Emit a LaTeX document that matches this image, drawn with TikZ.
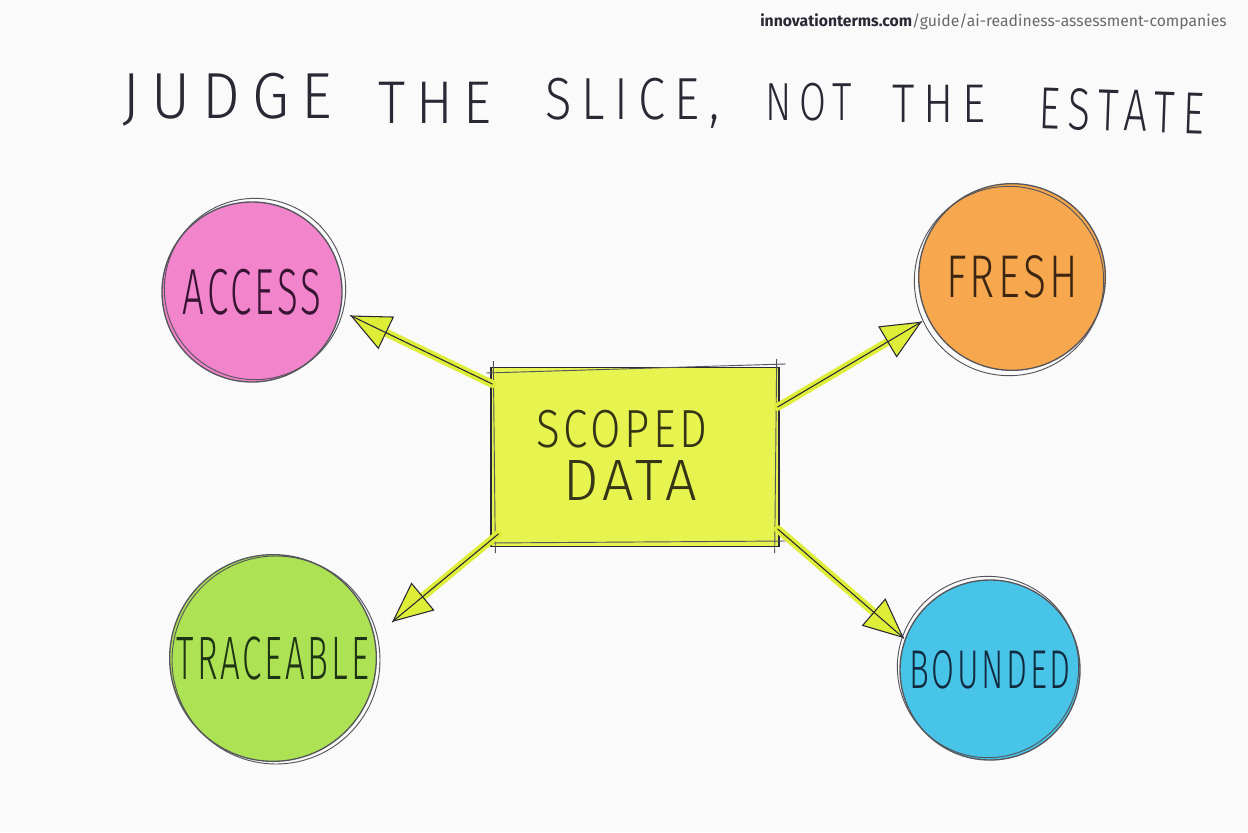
\documentclass[tikz,border=0pt]{standalone}
\usepackage{fontspec}
\setmainfont{Liberation Sans}
\newfontfamily\urlfont{Fira Sans}
\IfFontExistsTF{Fira Sans Light}
  {\newfontfamily\hand[LetterSpace=8]{Fira Sans Light}
   \newfontfamily\titlehand[LetterSpace=20]{Fira Sans Light}}
  {\newfontfamily\hand[LetterSpace=8]{Liberation Sans}
   \newfontfamily\titlehand[LetterSpace=20]{Liberation Sans}}
\usetikzlibrary{arrows.meta,calc}
\definecolor{bg}{RGB}{250,250,250}
\definecolor{ink}{RGB}{42,40,52}
\definecolor{rim}{RGB}{85,85,92}
\definecolor{urlgray}{RGB}{105,105,110}
\definecolor{pinkfill}{RGB}{241,132,202}
\definecolor{orangefill}{RGB}{247,168,78}
\definecolor{greenfill}{RGB}{172,226,84}
\definecolor{bluefill}{RGB}{72,196,232}
\definecolor{boxfill}{RGB}{231,243,78}
\definecolor{arrowyellow}{RGB}{222,238,56}
\definecolor{pinkink}{RGB}{55,20,50}
\definecolor{orangeink}{RGB}{60,38,18}
\definecolor{greenink}{RGB}{30,52,20}
\definecolor{blueink}{RGB}{18,42,62}
\definecolor{boxink}{RGB}{52,52,22}
\tikzset{
  blob/.style={circle, draw=rim, line width=1pt, inner sep=0pt},
  sketch/.style={draw=rim, line width=0.7pt},
  txtlabel/.style={inner sep=0pt, anchor=base},
  titleword/.style={inner sep=0pt, anchor=base west, text=ink},
  pointer/.style={line width=6pt, draw=arrowyellow, line cap=round,
    -{Triangle[length=30pt,width=27pt,fill=arrowyellow,color=ink,line width=0.8pt]},
    postaction={draw=ink, line width=0.8pt, -}}
}
\newcommand{\fitword}[3]{\resizebox{#1pt}{#2pt}{\hand #3}}
\newcommand{\fittitle}[3]{\resizebox{#1pt}{#2pt}{\titlehand #3}}
\begin{document}
\begin{tikzpicture}[x=0.75pt,y=-0.75pt]
\fill[bg] (0,0) rectangle (1248,832);
\useasboundingbox (0,0) rectangle (1248,832);

% source line
\node[anchor=base east, inner sep=0pt] (url) at (1227,26)
  {\fontsize{11.8}{14}\urlfont\textcolor{ink}{\bfseries innovationterms.com}\textcolor{urlgray}{/guide/ai-readiness-assessment-companies}};

% title
\node[titleword] (t1) at (122,118) {\fittitle{157}{34}{JUDGE}};
\node[titleword] (t2) at (378,123) {\fittitle{85}{31}{THE}};
\node[titleword] (t3) at (545,119) {\fittitle{131}{31}{SLICE,}};
\node[titleword] (t4) at (765,120) {\fittitle{65}{28}{NOT}};
\node[titleword] (t5) at (892,122) {\fittitle{70}{28}{THE}};
\node[titleword, rotate=-2] (t6) at (1038,128) {\fittitle{124}{31}{ESTATE}};

% central box
\node[draw=ink, line width=1pt, fill=boxfill, minimum width=216pt, minimum height=134pt, inner sep=0pt] (scoped) at (635,457) {};
\draw[sketch] ($(scoped.north west)+(-4,6)$) -- ($(scoped.north east)+(6,-3)$);
\draw[sketch] ($(scoped.south west)+(-3,-4)$) -- ($(scoped.south east)+(7,-6)$);
\draw[sketch] ($(scoped.north west)+(3,-6)$) -- ($(scoped.south west)+(5,6)$);
\draw[sketch] ($(scoped.north east)+(-3,-8)$) -- ($(scoped.south east)+(-5,6)$);
\node[txtlabel, text=boxink] (scopedA) at (622,447) {\fitword{128}{28}{SCOPED}};
\node[txtlabel, text=boxink] (scopedB) at (630,500) {\fitword{100}{30}{DATA}};

% circles
\node[blob, fill=pinkfill, minimum size=135pt, text=pinkink] (access) at (252,292) {\fitword{104}{34}{ACCESS}};
\draw[sketch] ($(access.center)+(3,-3)$) circle[radius=68pt];
\node[blob, fill=orangefill, minimum size=140pt, text=orangeink] (fresh) at (1012,277) {\fitword{99}{31.5}{FRESH}};
\draw[sketch] ($(fresh.center)+(-3,4)$) circle[radius=71pt];
\node[blob, fill=greenfill, minimum size=155pt, text=greenink] (traceable) at (273,658) {\fitword{144}{32}{TRACEABLE}};
\draw[sketch] ($(traceable.center)+(3,2)$) circle[radius=78pt];
\node[blob, fill=bluefill, minimum size=135pt, text=blueink] (bounded) at (990,670) {\fitword{121}{28.5}{BOUNDED}};
\draw[sketch] ($(bounded.center)+(-2,-3)$) circle[radius=68pt];

% connectors
\coordinate (cNW) at ($(scoped.north west)+(2,17)$);
\coordinate (cNE) at ($(scoped.north east)+(-2,40)$);
\coordinate (cSW) at ($(scoped.south west)+(8,-13)$);
\coordinate (cSE) at ($(scoped.south east)+(-2,-18)$);
\draw[pointer, shorten >=8pt] (cNW) -- (access.-12);
\draw[pointer, shorten >=5pt] (cNE) -- (fresh.206);
\draw[pointer, shorten >=17pt] (cSW) -- (traceable.12);
\draw[pointer, shorten >=1pt] (cSE) -- (bounded.160);
\end{tikzpicture}
\end{document}
